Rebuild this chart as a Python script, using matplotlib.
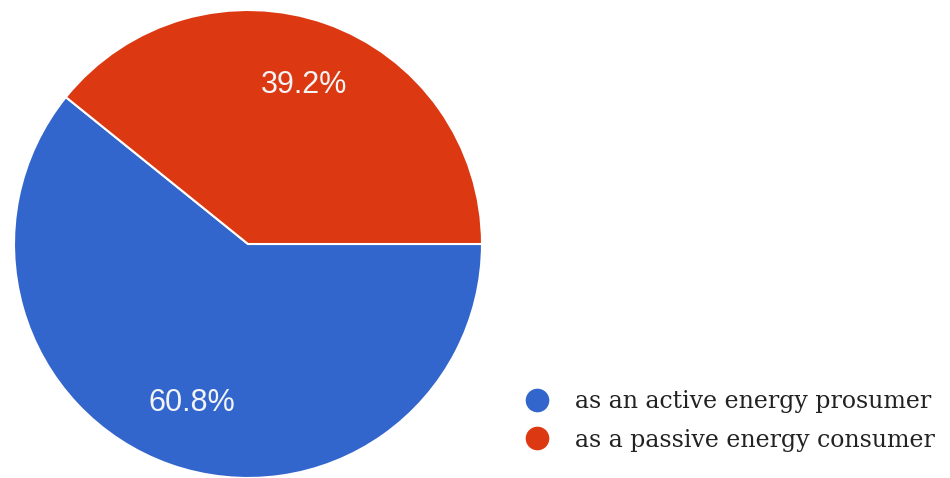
import matplotlib.pyplot as plt
from matplotlib.lines import Line2D

labels = ['as an active energy prosumer', 'as a passive energy consumer']
shares = [60.8, 39.2]
colors = ['#3366cc', '#dc3912']

fig = plt.figure(figsize=(9.5, 4.78), dpi=100)
ax = fig.add_axes([14 / 950, 0.0, 468 / 950, 468 / 478])

wedges, texts, autotexts = ax.pie(
    shares, colors=colors, startangle=141.12, counterclock=True,
    autopct='%.1f%%', pctdistance=0.72,
    wedgeprops=dict(edgecolor='white', linewidth=1.5),
    textprops=dict(color='#f4f4f4', fontsize=22, family='Liberation Sans'))
ax.set_xlim(-1, 1)
ax.set_ylim(-1, 1)
ax.set_aspect('equal')

handles = [Line2D([], [], marker='o', linestyle='', markersize=16,
                  markerfacecolor=c, markeredgecolor=c) for c in colors]
fig.legend(handles, labels, loc='center left', bbox_to_anchor=(492 / 950, 1 - 421 / 478),
           frameon=False, handletextpad=0.62, labelspacing=0.65,
           prop=dict(family='DejaVu Serif', size=17), labelcolor='#222222')

fig.savefig('out.png', dpi=100)
